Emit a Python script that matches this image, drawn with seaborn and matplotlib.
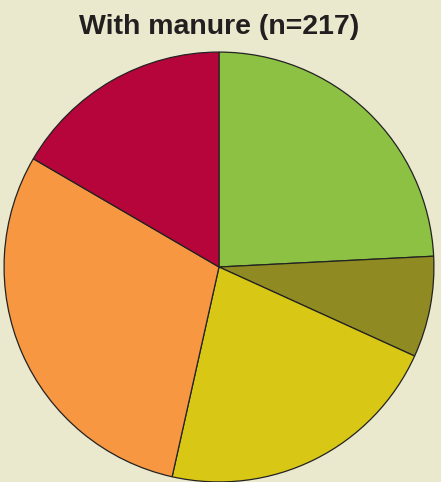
import matplotlib
matplotlib.use('Agg')
import matplotlib.pyplot as plt
import seaborn as sns

# 데이터 (그림에서 읽은 값, 비율 %)
categories = ['A', 'B', 'C', 'D', 'E']
shares = [24.2, 7.6, 21.7, 29.9, 16.6]
colors = ['#8DC143', '#8F8B22', '#D9C716', '#F79742', '#B5053A']

sns.set_theme(style='white')
plt.rcParams['font.family'] = ['Liberation Sans', 'DejaVu Sans']

bg = '#EAE8CD'
fig = plt.figure(figsize=(4.41, 4.82), dpi=100, facecolor=bg)

# 파이 위치 (중심 219, 267 px / 반지름 216 px)
W, H = 441, 482
cx, cy, r = 219, 267, 216
ax = fig.add_axes([(cx - r) / W, (H - cy - r) / H, 2 * r / W, 2 * r / H])
ax.set_facecolor(bg)
ax.pie(shares, colors=colors, startangle=90, counterclock=False, radius=1,
       wedgeprops={'edgecolor': '#222222', 'linewidth': 0.9})
ax.set_xlim(-1.005, 1.005)
ax.set_ylim(-1.005, 1.005)
ax.set_aspect('auto')
ax.axis('off')

fig.text(219 / W, 1 - 27 / H, 'With manure (n=217)', ha='center', va='center',
         fontsize=20.5, fontweight='bold', color='#231F20')

fig.savefig('out.png', dpi=100, facecolor=bg)
